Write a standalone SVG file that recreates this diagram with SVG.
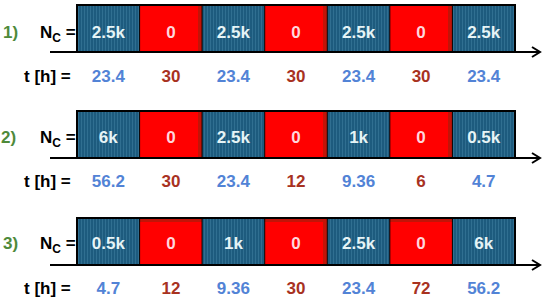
<svg xmlns="http://www.w3.org/2000/svg" width="550" height="303" viewBox="0 0 550 303">
<defs>
<pattern id="stripes" patternUnits="userSpaceOnUse" width="3" height="10">
<rect width="3" height="10" fill="#1d5b7e"/>
<rect x="0" width="0.7" height="10" fill="#3f7ea0" opacity="0.8"/>
</pattern>
<marker id="arr" markerWidth="12" markerHeight="12" refX="10" refY="6" orient="auto" markerUnits="userSpaceOnUse">
<path d="M2,1 L10,6 L2,11" fill="none" stroke="#000" stroke-width="2"/>
</marker>
</defs>
<style>
text{font-family:"Liberation Sans",Arial,sans-serif;font-weight:bold;font-size:17px}
.bt{fill:#e6f4f6;text-anchor:middle}
.rt{fill:#ffd6dc;text-anchor:middle}
.tb{fill:#5283d6;text-anchor:middle}
.tr{fill:#a8321f;text-anchor:middle}
.lab{fill:#000}
.num{fill:#4f8a3a}
.blue{fill:url(#stripes)}
.red{fill:#ff0000}
.redge{fill:#c21408}
.frame{fill:none;stroke:#000;stroke-width:2}
.sep{stroke:#000;stroke-width:1}
.axis{stroke:#000;stroke-width:2;fill:none}
</style>

<!-- Row labels -->
<g id="labels">
<text class="num" x="3" y="38">1)</text>
<text class="lab" x="40" y="38">N<tspan font-size="12" dy="4">C</tspan><tspan dy="-4"> =</tspan></text>
<text class="lab" x="24" y="82">t [h] =</text>
<text class="num" x="1" y="143">2)</text>
<text class="lab" x="40" y="143">N<tspan font-size="12" dy="4">C</tspan><tspan dy="-4"> =</tspan></text>
<text class="lab" x="24" y="187">t [h] =</text>
<text class="num" x="3" y="249">3)</text>
<text class="lab" x="40" y="249">N<tspan font-size="12" dy="4">C</tspan><tspan dy="-4"> =</tspan></text>
<text class="lab" x="24" y="294">t [h] =</text>
</g>

<!-- Connectors: time axes -->
<g id="connectors">
<line class="axis" x1="50" y1="52" x2="540" y2="52" marker-end="url(#arr)"/>
<line class="axis" x1="50" y1="158" x2="540" y2="158" marker-end="url(#arr)"/>
<line class="axis" x1="50" y1="265" x2="540" y2="265" marker-end="url(#arr)"/>
</g>

<!-- Row 1 -->
<g id="row1">
<g id="r1b1"><rect class="blue" x="77" y="5" width="62.6" height="47"/><text class="bt" x="108.3" y="38">2.5k</text><text class="tb" x="108.3" y="82">23.4</text></g>
<g id="r1b2"><rect class="red" x="139.6" y="5" width="62.6" height="47"/><rect class="redge" x="198" y="5" width="4.2" height="47"/><text class="rt" x="170.9" y="38">0</text><text class="tr" x="170.9" y="82">30</text></g>
<g id="r1b3"><rect class="blue" x="202.1" y="5" width="62.6" height="47"/><text class="bt" x="233.4" y="38">2.5k</text><text class="tb" x="233.4" y="82">23.4</text></g>
<g id="r1b4"><rect class="red" x="264.7" y="5" width="62.6" height="47"/><rect class="redge" x="323" y="5" width="4.2" height="47"/><text class="rt" x="296" y="38">0</text><text class="tr" x="296" y="82">30</text></g>
<g id="r1b5"><rect class="blue" x="327.3" y="5" width="62.6" height="47"/><text class="bt" x="358.6" y="38">2.5k</text><text class="tb" x="358.6" y="82">23.4</text></g>
<g id="r1b6"><rect class="red" x="389.8" y="5" width="62.6" height="47"/><rect class="redge" x="448" y="5" width="4.2" height="47"/><text class="rt" x="421.1" y="38">0</text><text class="tr" x="421.1" y="82">30</text></g>
<g id="r1b7"><rect class="blue" x="452.4" y="5" width="62.6" height="47"/><text class="bt" x="483.7" y="38">2.5k</text><text class="tb" x="483.7" y="82">23.4</text></g>
<path class="sep" d="M139.6,5V52M202.1,5V52M264.7,5V52M327.3,5V52M389.8,5V52M452.4,5V52"/>
<rect class="frame" x="77" y="5" width="438" height="47"/>
</g>

<!-- Row 2 -->
<g id="row2">
<g id="r2b1"><rect class="blue" x="77" y="111" width="62.6" height="47"/><text class="bt" x="108.3" y="143">6k</text><text class="tb" x="108.3" y="187">56.2</text></g>
<g id="r2b2"><rect class="red" x="139.6" y="111" width="62.6" height="47"/><rect class="redge" x="198" y="111" width="4.2" height="47"/><text class="rt" x="170.9" y="143">0</text><text class="tr" x="170.9" y="187">30</text></g>
<g id="r2b3"><rect class="blue" x="202.1" y="111" width="62.6" height="47"/><text class="bt" x="233.4" y="143">2.5k</text><text class="tb" x="233.4" y="187">23.4</text></g>
<g id="r2b4"><rect class="red" x="264.7" y="111" width="62.6" height="47"/><rect class="redge" x="323" y="111" width="4.2" height="47"/><text class="rt" x="296" y="143">0</text><text class="tr" x="296" y="187">12</text></g>
<g id="r2b5"><rect class="blue" x="327.3" y="111" width="62.6" height="47"/><text class="bt" x="358.6" y="143">1k</text><text class="tb" x="358.6" y="187">9.36</text></g>
<g id="r2b6"><rect class="red" x="389.8" y="111" width="62.6" height="47"/><rect class="redge" x="448" y="111" width="4.2" height="47"/><text class="rt" x="421.1" y="143">0</text><text class="tr" x="421.1" y="187">6</text></g>
<g id="r2b7"><rect class="blue" x="452.4" y="111" width="62.6" height="47"/><text class="bt" x="483.7" y="143">0.5k</text><text class="tb" x="483.7" y="187">4.7</text></g>
<path class="sep" d="M139.6,111V158M202.1,111V158M264.7,111V158M327.3,111V158M389.8,111V158M452.4,111V158"/>
<rect class="frame" x="77" y="111" width="438" height="47"/>
</g>

<!-- Row 3 -->
<g id="row3">
<g id="r3b1"><rect class="blue" x="77" y="218" width="62.6" height="47"/><text class="bt" x="108.3" y="249">0.5k</text><text class="tb" x="108.3" y="294">4.7</text></g>
<g id="r3b2"><rect class="red" x="139.6" y="218" width="62.6" height="47"/><rect class="redge" x="139.6" y="218" width="62.6" height="4"/><text class="rt" x="170.9" y="249">0</text><text class="tr" x="170.9" y="294">12</text></g>
<g id="r3b3"><rect class="blue" x="202.1" y="218" width="62.6" height="47"/><text class="bt" x="233.4" y="249">1k</text><text class="tb" x="233.4" y="294">9.36</text></g>
<g id="r3b4"><rect class="red" x="264.7" y="218" width="62.6" height="47"/><rect class="redge" x="264.7" y="218" width="62.6" height="4"/><rect class="redge" x="323" y="218" width="4.2" height="47"/><text class="rt" x="296" y="249">0</text><text class="tr" x="296" y="294">30</text></g>
<g id="r3b5"><rect class="blue" x="327.3" y="218" width="62.6" height="47"/><text class="bt" x="358.6" y="249">2.5k</text><text class="tb" x="358.6" y="294">23.4</text></g>
<g id="r3b6"><rect class="red" x="389.8" y="218" width="62.6" height="47"/><rect class="redge" x="389.8" y="218" width="62.6" height="4"/><text class="rt" x="421.1" y="249">0</text><text class="tr" x="421.1" y="294">72</text></g>
<g id="r3b7"><rect class="blue" x="452.4" y="218" width="62.6" height="47"/><text class="bt" x="483.7" y="249">6k</text><text class="tb" x="483.7" y="294">56.2</text></g>
<path class="sep" d="M139.6,218V265M202.1,218V265M264.7,218V265M327.3,218V265M389.8,218V265M452.4,218V265"/>
<rect class="frame" x="77" y="218" width="438" height="47"/>
</g>
</svg>
